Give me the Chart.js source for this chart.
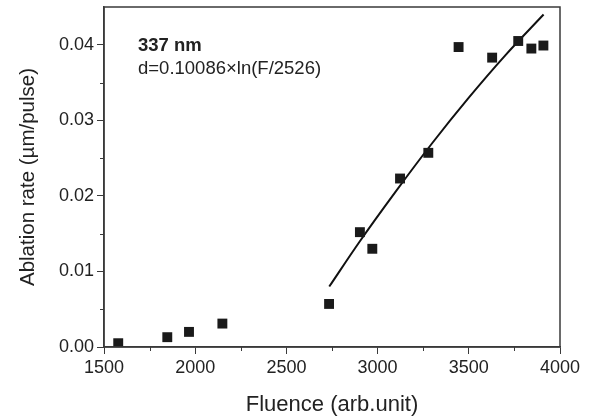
<!DOCTYPE html>
<html>
<head>
<meta charset="utf-8">
<script src="https://cdn.jsdelivr.net/npm/chart.js@4/dist/chart.umd.min.js"></script>
<style>
html,body{margin:0;padding:0;background:#fff;}
#wrap{width:592px;height:418px;position:relative;}
</style>
</head>
<body>
<div id="wrap"><canvas id="c" width="592" height="418"></canvas></div>
<script>
const fluence = [1578, 1847, 1966, 2149, 2734, 2903, 2971, 3123, 3278, 3444, 3628, 3771, 3843, 3909];
const rate    = [0.0005, 0.0013, 0.0020, 0.0031, 0.0057, 0.0152, 0.0130, 0.0223, 0.0257, 0.0397, 0.0383, 0.0405, 0.0395, 0.0399];
// Fit line
const fitFluence = [2735, 2900, 3100, 3300, 3500, 3700, 3910];
const fitRate    = [0.0080, 0.0139, 0.0206, 0.0270, 0.0330, 0.0386, 0.0440];
// Axis ticks
const xTickLabels = [1500, 2000, 2500, 3000, 3500, 4000];
const yTickLabels = [0.00, 0.01, 0.02, 0.03, 0.04];
const annoTitle = '337 nm';
const annoFormula = 'd=0.10086×ln(F/2526)';

const FONT = "'Liberation Sans', Arial, Helvetica, sans-serif";
const TXT = '#222';
const AX = '#3a3a3a';

function isMajor(v, list){ return list.some(t => Math.abs(t - v) < 1e-9); }

const framePlugin = {
  id: 'frame',
  afterDraw(chart){
    const {ctx, chartArea:a, scales} = chart;
    ctx.save();
    // minor ticks
    ctx.strokeStyle = AX; ctx.lineWidth = 1;
    scales.x.ticks.forEach(t => {
      if (!isMajor(t.value, xTickLabels)) {
        const px = Math.round(scales.x.getPixelForValue(t.value)) + 0.5;
        ctx.beginPath(); ctx.moveTo(px, a.bottom); ctx.lineTo(px, a.bottom + 4); ctx.stroke();
      }
    });
    scales.y.ticks.forEach(t => {
      if (!isMajor(t.value, yTickLabels) && t.value < scales.y.max - 1e-9) {
        const py = Math.round(scales.y.getPixelForValue(t.value)) + 0.5;
        ctx.beginPath(); ctx.moveTo(a.left, py); ctx.lineTo(a.left - 4, py); ctx.stroke();
      }
    });
    // frame
    ctx.lineWidth = 1.5; ctx.strokeStyle = AX;
    ctx.strokeRect(a.left, a.top, a.right - a.left, a.bottom - a.top);
    // annotations
    ctx.fillStyle = TXT;
    ctx.textBaseline = 'alphabetic';
    ctx.textAlign = 'left';
    ctx.font = 'bold 18.5px ' + FONT;
    ctx.fillText(annoTitle, a.left + 34, a.top + 44);
    ctx.font = '18.5px ' + FONT;
    ctx.fillText(annoFormula, a.left + 34, a.top + 67);
    ctx.restore();
  }
};

const chart = new Chart(document.getElementById('c'), {
  type: 'scatter',
  data: {
    datasets: [
      {
        label: 'fit',
        type: 'line',
        data: fitFluence.map((x, i) => ({x, y: fitRate[i]})),
        borderColor: '#111',
        borderWidth: 2,
        pointRadius: 0,
        cubicInterpolationMode: 'monotone',
        fill: false,
        order: 2
      },
      {
        label: 'data',
        data: fluence.map((x, i) => ({x, y: rate[i]})),
        pointStyle: 'rect',
        pointRadius: 7,
        pointHoverRadius: 7,
        backgroundColor: '#1a1a1a',
        borderColor: '#1a1a1a',
        borderWidth: 0,
        order: 1
      }
    ]
  },
  options: {
    responsive: false,
    animation: false,
    events: [],
    layout: { padding: { top: 7, right: 32, left: 16, bottom: 0 } },
    plugins: { legend: { display: false }, tooltip: { enabled: false } },
    scales: {
      x: {
        type: 'linear',
        min: 1500, max: 4000,
        afterFit(s){ s.height = 71; },
        border: { display: true, color: AX, width: 1.5 },
        grid: {
          drawOnChartArea: false, drawTicks: true, tickLength: 7,
          tickColor: c => isMajor(c.tick.value, xTickLabels) ? AX : 'rgba(0,0,0,0)',
          tickWidth: 1
        },
        ticks: {
          stepSize: 250, autoSkip: false, maxRotation: 0, padding: 3,
          color: TXT, font: { family: FONT, size: 18 },
          callback: v => isMajor(v, xTickLabels) ? String(v) : ''
        },
        title: {
          display: true, text: 'Fluence (arb.unit)', color: TXT,
          font: { family: FONT, size: 22 }, padding: { top: 1, bottom: 0 }
        }
      },
      y: {
        type: 'linear',
        min: 0, max: 0.045,
        afterFit(s){ s.width = 88; s.paddingTop = 0; s.paddingBottom = 0; },
        border: { display: true, color: AX, width: 1.5 },
        grid: {
          drawOnChartArea: false, drawTicks: true, tickLength: 7,
          tickColor: c => isMajor(c.tick.value, yTickLabels) ? AX : 'rgba(0,0,0,0)',
          tickWidth: 1
        },
        ticks: {
          stepSize: 0.005, autoSkip: false, padding: 3,
          color: TXT, font: { family: FONT, size: 18 },
          callback: v => isMajor(v, yTickLabels) ? v.toFixed(2) : ''
        },
        title: {
          display: true, text: 'Ablation rate (µm/pulse)', color: TXT,
          font: { family: FONT, size: 20.5 }, padding: { top: 0, bottom: 4 }
        }
      }
    }
  },
  plugins: [framePlugin]
});
</script>
</body>
</html>
